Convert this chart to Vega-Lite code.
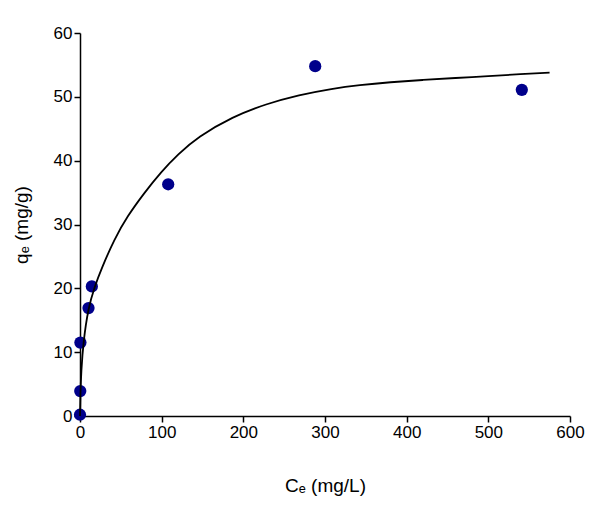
{
  "$schema": "https://vega.github.io/schema/vega-lite/v6.json",
  "width": 490,
  "height": 383,
  "autosize": "none",
  "padding": {"left": 80, "top": 33, "right": 30, "bottom": 98},
  "background": "white",
  "config": {
    "view": {"stroke": null},
    "font": "Liberation Sans",
    "axis": {
      "grid": false,
      "labelFlush": false,
      "domainColor": "black",
      "domainWidth": 1.5,
      "tickColor": "black",
      "tickWidth": 1.5,
      "tickSize": 6,
      "labelFontSize": 17,
      "labelColor": "black",
      "labelFont": "Liberation Sans",
      "titleFont": "Liberation Sans",
      "titleFontSize": 19,
      "titleFontWeight": "normal",
      "titleColor": "black"
    }
  },
  "datasets": {
    "points": [
      {"Ce": 0, "qe": 0.2},
      {"Ce": 0.3, "qe": 3.9},
      {"Ce": 0.5, "qe": 11.5},
      {"Ce": 10.4, "qe": 16.9},
      {"Ce": 14.5, "qe": 20.3},
      {"Ce": 108, "qe": 36.3},
      {"Ce": 288, "qe": 54.8},
      {"Ce": 541, "qe": 51.1}
    ],
    "curve": [
      {"Ce": 0, "qe": 0},
      {"Ce": 0.5, "qe": 3.5},
      {"Ce": 1.5, "qe": 7},
      {"Ce": 4, "qe": 11.5},
      {"Ce": 10, "qe": 16.9},
      {"Ce": 18, "qe": 20.3},
      {"Ce": 26, "qe": 23.0},
      {"Ce": 42, "qe": 27.7},
      {"Ce": 58, "qe": 31.3},
      {"Ce": 79, "qe": 35.0},
      {"Ce": 99, "qe": 38.2},
      {"Ce": 120, "qe": 41.0},
      {"Ce": 144, "qe": 43.7},
      {"Ce": 187, "qe": 46.9},
      {"Ce": 228, "qe": 48.9},
      {"Ce": 268, "qe": 50.3},
      {"Ce": 309, "qe": 51.3},
      {"Ce": 342, "qe": 51.85},
      {"Ce": 380, "qe": 52.3},
      {"Ce": 420, "qe": 52.65},
      {"Ce": 460, "qe": 52.95},
      {"Ce": 500, "qe": 53.25},
      {"Ce": 540, "qe": 53.55},
      {"Ce": 575, "qe": 53.8}
    ]
  },
  "encoding": {
    "x": {
      "field": "Ce",
      "type": "quantitative",
      "scale": {"domain": [0, 600], "nice": false},
      "axis": {"values": [0, 100, 200, 300, 400, 500, 600], "title": "Cₑ (mg/L)", "titlePadding": 36}
    },
    "y": {
      "field": "qe",
      "type": "quantitative",
      "scale": {"domain": [0, 60], "nice": false},
      "axis": {"values": [0, 10, 20, 30, 40, 50, 60], "title": "qₑ (mg/g)", "titlePadding": 22}
    }
  },
  "layer": [
    {
      "data": {"name": "points"},
      "mark": {"type": "circle", "color": "#00008B", "opacity": 1, "size": 150, "clip": false}
    },
    {
      "data": {"name": "curve"},
      "mark": {"type": "line", "color": "black", "strokeWidth": 1.8, "interpolate": "basis"}
    }
  ]
}
